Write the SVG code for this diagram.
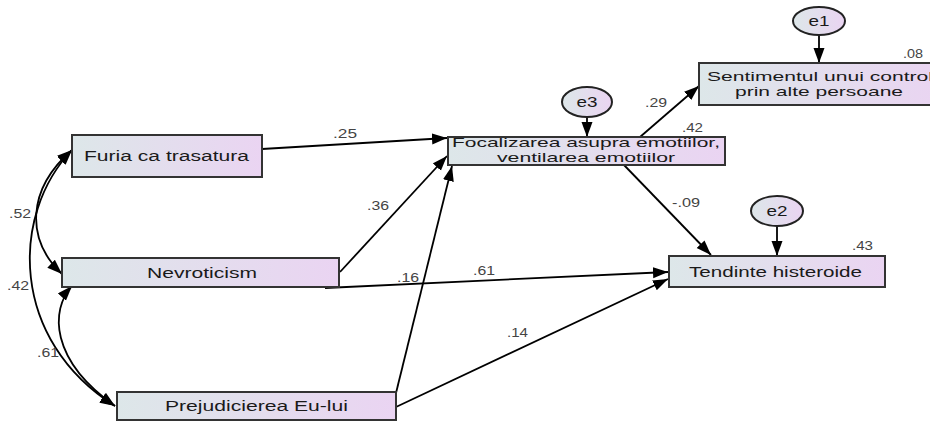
<svg xmlns="http://www.w3.org/2000/svg" width="930" height="421" viewBox="0 0 930 421">
<defs>
<linearGradient id="g" x1="0" y1="0" x2="1" y2="0">
<stop offset="0" stop-color="#dde7e9"/>
<stop offset="1" stop-color="#ead4f2"/>
</linearGradient>
<marker id="ah" markerUnits="userSpaceOnUse" markerWidth="16" markerHeight="12" refX="15" refY="5.5" orient="auto-start-reverse">
<path d="M0,0 L15,5.5 L0,11 z" fill="#000"/>
</marker>
<style>
.box{fill:url(#g);stroke:#333;stroke-width:2}
.ell{fill:url(#g);stroke:#222;stroke-width:2}
.t{font-family:"Liberation Sans",Arial,sans-serif;font-size:14px;fill:#1a1a1a}
.t2{font-family:"Liberation Sans",Arial,sans-serif;font-size:13px;fill:#1a1a1a}
.l{font-family:"Liberation Sans",Arial,sans-serif;font-size:12px;fill:#444}
.c{fill:none;stroke:#000;stroke-width:1.8}
.a{marker-end:url(#ah)}
.b{marker-start:url(#ah);marker-end:url(#ah)}
</style>
</defs>
<rect width="930" height="421" fill="#fff"/>
<g id="connectors">
<path class="c a" d="M262,149 L447,138"/>
<path class="c a" d="M340,272 L447,156"/>
<path class="c a" d="M396,393 L452,166"/>
<path class="c a" d="M325,288 L668,272"/>
<path class="c a" d="M396,407 L668,279"/>
<path class="c a" d="M624,165 L711,255"/>
<path class="c a" d="M640,137 L699,86"/>
<path class="c a" d="M819,35 L819,63"/>
<path class="c a" d="M587,117 L587,137"/>
<path class="c a" d="M777,226 L777,256"/>
<path class="c b" d="M72,150 C26,190 26,240 62,274"/>
<path class="c b" d="M72,150 C10,215 10,340 115,406"/>
<path class="c b" d="M72,286 C50,310 50,360 115,406"/>
<text class="l" x="333" y="138" textLength="24" lengthAdjust="spacingAndGlyphs">.25</text>
<text class="l" x="367" y="210" textLength="22" lengthAdjust="spacingAndGlyphs">.36</text>
<text class="l" x="397" y="282" textLength="22" lengthAdjust="spacingAndGlyphs">.16</text>
<text class="l" x="473" y="275" textLength="22" lengthAdjust="spacingAndGlyphs">.61</text>
<text class="l" x="507" y="337" textLength="21" lengthAdjust="spacingAndGlyphs">.14</text>
<text class="l" x="645" y="107" textLength="22" lengthAdjust="spacingAndGlyphs">.29</text>
<text class="l" x="672" y="207" textLength="28" lengthAdjust="spacingAndGlyphs">-.09</text>
<text class="l" x="9" y="218" textLength="22" lengthAdjust="spacingAndGlyphs">.52</text>
<text class="l" x="7" y="290" textLength="22" lengthAdjust="spacingAndGlyphs">.42</text>
<text class="l" x="37" y="357" textLength="22" lengthAdjust="spacingAndGlyphs">.61</text>
</g>
<g id="furia">
<rect class="box" x="72" y="135" width="190" height="42"/>
<text class="t" x="84" y="161" textLength="165" lengthAdjust="spacingAndGlyphs">Furia ca trasatura</text>
</g>
<g id="nevroticism">
<rect class="box" x="62" y="258" width="277" height="29"/>
<text class="t" x="147" y="278" textLength="110" lengthAdjust="spacingAndGlyphs">Nevroticism</text>
</g>
<g id="prejudicierea">
<rect class="box" x="117" y="392" width="279" height="28"/>
<text class="t" x="165" y="411" textLength="183" lengthAdjust="spacingAndGlyphs">Prejudicierea Eu-lui</text>
</g>
<g id="focalizarea">
<rect class="box" x="448" y="137" width="277" height="28"/>
<text class="t2" x="452" y="147" textLength="268" lengthAdjust="spacingAndGlyphs">Focalizarea asupra emotiilor,</text>
<text class="t2" x="497" y="162" textLength="178" lengthAdjust="spacingAndGlyphs">ventilarea emotiilor</text>
<text class="l" x="682" y="132" textLength="21" lengthAdjust="spacingAndGlyphs">.42</text>
</g>
<g id="sentimentul">
<rect class="box" x="699" y="63" width="245" height="42"/>
<text class="t2" x="707" y="81" textLength="226" lengthAdjust="spacingAndGlyphs">Sentimentul unui control</text>
<text class="t2" x="735" y="96" textLength="168" lengthAdjust="spacingAndGlyphs">prin alte persoane</text>
<text class="l" x="903" y="58" textLength="20" lengthAdjust="spacingAndGlyphs">.08</text>
</g>
<g id="tendinte">
<rect class="box" x="669" y="256" width="216" height="31"/>
<text class="t" x="689" y="277" textLength="173" lengthAdjust="spacingAndGlyphs">Tendinte histeroide</text>
<text class="l" x="852" y="250" textLength="21" lengthAdjust="spacingAndGlyphs">.43</text>
</g>
<g id="e1">
<ellipse class="ell" cx="819" cy="21" rx="26" ry="14"/>
<text class="t" x="819" y="26" text-anchor="middle" textLength="21" lengthAdjust="spacingAndGlyphs">e1</text>
</g>
<g id="e3">
<ellipse class="ell" cx="587" cy="102" rx="25" ry="15"/>
<text class="t" x="587" y="107" text-anchor="middle" textLength="21" lengthAdjust="spacingAndGlyphs">e3</text>
</g>
<g id="e2">
<ellipse class="ell" cx="777" cy="211" rx="26" ry="15"/>
<text class="t" x="777" y="216" text-anchor="middle" textLength="21" lengthAdjust="spacingAndGlyphs">e2</text>
</g>
</svg>
